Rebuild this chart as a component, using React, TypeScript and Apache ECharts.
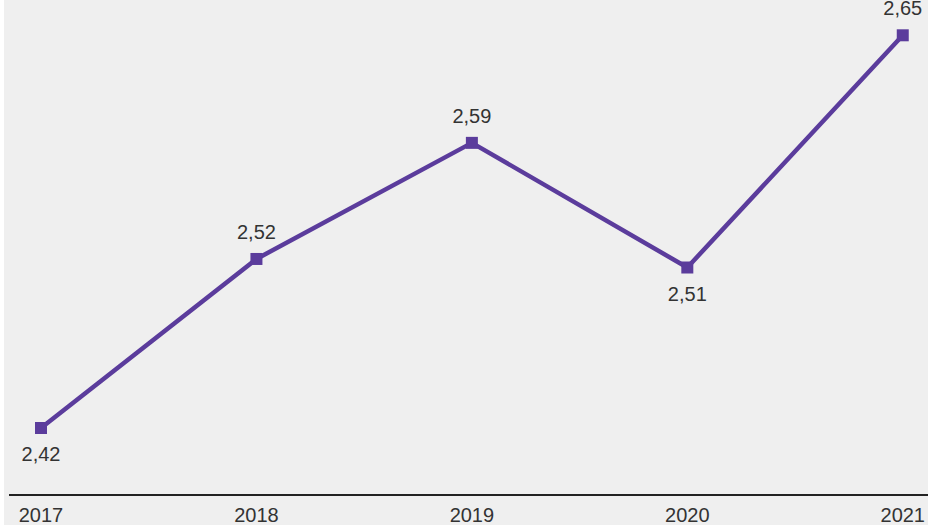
import React, { useEffect, useRef } from "react";
import * as echarts from "echarts";

const years = ["2017", "2018", "2019", "2020", "2021"];
const values = [2.42, 2.519, 2.587, 2.514, 2.65];
const labelPositions = ["bottom", "top", "top", "bottom", "top"];

const PURPLE = "#5b3c9c";
const FONT = "'Liberation Sans', Helvetica, Arial, sans-serif";

export default function App() {
  const ref = useRef<HTMLDivElement>(null);
  useEffect(() => {
    document.body.style.margin = "0";
    const chart = echarts.init(ref.current!, null, { renderer: "svg" });
    chart.setOption({
      animation: false,
      backgroundColor: "#ffffff",
      graphic: [
        { type: "rect", z: -10, shape: { x: 4, y: 0, width: 924, height: 525 }, style: { fill: "#efefef" } },
        { type: "line", z: 10, shape: { x1: 9, y1: 495, x2: 928, y2: 495 }, style: { stroke: "#222", lineWidth: 2 } },
      ],
      grid: { left: 41, right: 23, top: 0, height: 495, containLabel: false },
      xAxis: {
        type: "category",
        data: years,
        boundaryGap: false,
        axisLine: { show: false },
        axisTick: { show: false },
        axisLabel: { fontSize: 20, color: "#333", fontFamily: FONT, margin: 10 },
      },
      yAxis: {
        type: "value",
        min: 2.38076,
        max: 2.67067,
        show: false,
        splitLine: { show: false },
      },
      series: [
        {
          type: "line",
          data: values.map((v, i) => ({
            value: v,
            label: {
              position: labelPositions[i],
              distance: labelPositions[i] === "top" ? 11 : 10,
            },
          })),
          lineStyle: { color: PURPLE, width: 4.5 },
          itemStyle: { color: PURPLE },
          symbol: "rect",
          symbolSize: 12,
          label: {
            show: true,
            fontSize: 20,
            color: "#333",
            fontFamily: FONT,
            formatter: (p: any) => p.value.toFixed(2).replace(".", ","),
          },
        },
      ],
    });
    return () => chart.dispose();
  }, []);
  return <div ref={ref} style={{ width: 928, height: 525, position: "absolute", left: 0, top: 0 }} />;
}
